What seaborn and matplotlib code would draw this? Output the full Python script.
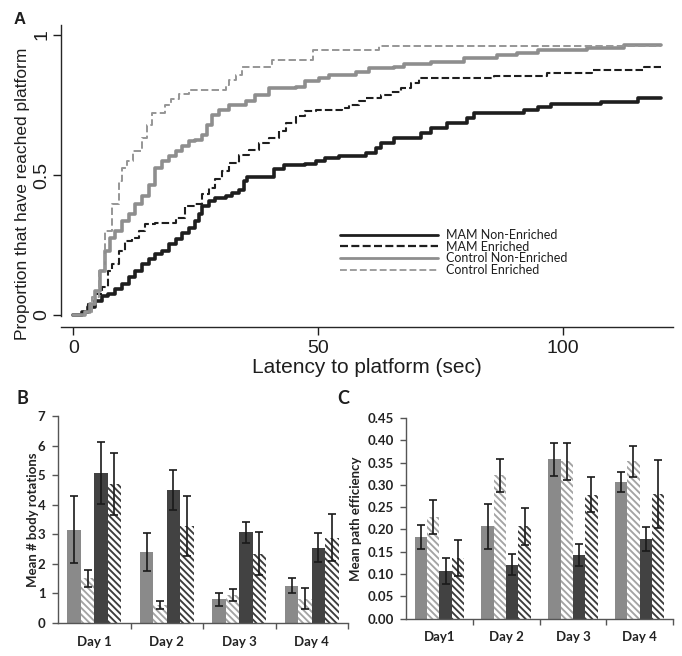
import matplotlib
matplotlib.use("Agg")
import matplotlib.pyplot as plt
import numpy as np
import pandas as pd
import seaborn as sns

# ---------------- Panel A: cumulative proportion reaching platform ----------------
mam_ne_t = [0, 1.8, 3.1, 4.5, 5.9, 7.2, 8.6, 10.0, 11.3, 12.7, 14.0, 15.4, 16.8, 18.1,
            19.5, 20.9, 22.2, 23.6, 24.9, 25.6, 26.3, 27.7, 29.0, 31.1, 32.4, 33.8, 34.8,
            35.5, 41.0, 43.0, 47.4, 49.5, 51.5, 54.3, 59.7, 61.8, 62.8, 65.5, 71.0, 73.0,
            76.4, 80.5, 81.9, 92.1, 94.8, 97.5, 107.8, 115.3, 120.0]
mam_ne_p = [0, 0.01, 0.027, 0.051, 0.069, 0.075, 0.093, 0.11, 0.134, 0.158, 0.181, 0.199,
            0.217, 0.229, 0.253, 0.27, 0.294, 0.312, 0.336, 0.36, 0.389, 0.407, 0.419,
            0.425, 0.437, 0.448, 0.478, 0.492, 0.52, 0.535, 0.54, 0.549, 0.561, 0.567,
            0.579, 0.597, 0.615, 0.632, 0.65, 0.668, 0.686, 0.704, 0.721, 0.733, 0.743,
            0.753, 0.762, 0.775, 0.775]

mam_e_t = [0, 2.0, 3.1, 4.5, 5.9, 7.2, 7.9, 9.3, 10.6, 12.0, 13.4, 14.7, 16.8, 20.9, 22.9,
           24.9, 26.3, 27.7, 29.0, 30.4, 31.8, 33.8, 35.9, 37.9, 39.9, 42.0, 43.4, 45.4,
           47.4, 49.5, 54.9, 56.3, 58.3, 59.7, 62.8, 64.8, 66.9, 68.9, 70.6, 85.9, 96.8,
           106.0, 116.6, 120.0]
mam_e_p = [0, 0.01, 0.039, 0.075, 0.099, 0.158, 0.181, 0.229, 0.264, 0.276, 0.30, 0.324,
           0.33, 0.348, 0.389, 0.395, 0.431, 0.454, 0.484, 0.514, 0.543, 0.573, 0.591,
           0.615, 0.632, 0.656, 0.686, 0.709, 0.727, 0.733, 0.739, 0.751, 0.763, 0.775,
           0.786, 0.798, 0.81, 0.828, 0.846, 0.855, 0.864, 0.875, 0.884, 0.884]

ctl_ne_t = [0, 2.5, 3.5, 4.5, 5.5, 6.5, 7.6, 8.6, 10.0, 11.3, 12.7, 14.0, 15.4, 16.8, 18.1,
            19.5, 20.9, 22.2, 23.6, 24.9, 26.3, 27.3, 28.4, 29.7, 31.8, 35.2, 37.2, 39.9,
            45.4, 47.4, 50.2, 52.2, 57.7, 60.4, 65.5, 67.5, 73.0, 79.8, 86.6, 90.7, 94.8,
            105.0, 112.5, 120.0]
ctl_ne_p = [0, 0.01, 0.04, 0.087, 0.158, 0.229, 0.276, 0.30, 0.336, 0.359, 0.395, 0.425,
            0.466, 0.526, 0.549, 0.567, 0.585, 0.603, 0.62, 0.626, 0.644, 0.68, 0.715,
            0.733, 0.751, 0.763, 0.786, 0.81, 0.816, 0.834, 0.846, 0.858, 0.869, 0.881,
            0.887, 0.896, 0.905, 0.917, 0.929, 0.935, 0.947, 0.953, 0.963, 0.965]

ctl_e_t = [0, 2.5, 3.8, 5.2, 6.5, 7.9, 9.3, 10.0, 11.0, 12.3, 14.0, 15.0, 16.1, 18.8, 20.0,
           21.5, 23.6, 31.1, 31.8, 33.2, 34.5, 40.5, 49.0, 62.5, 120.0]
ctl_e_p = [0, 0.01, 0.063, 0.158, 0.30, 0.395, 0.478, 0.526, 0.549, 0.585, 0.632, 0.68,
           0.721, 0.751, 0.77, 0.79, 0.804, 0.822, 0.84, 0.858, 0.885, 0.91, 0.945, 0.96,
           0.962]

curve_labels = ["MAM Non-Enriched", "MAM Enriched", "Control Non-Enriched", "Control Enriched"]

# ---------------- Panels B and C: bar charts ----------------
groups = ["Control Non-Enriched", "Control Enriched", "MAM Non-Enriched", "MAM Enriched"]
days_b = ["Day 1", "Day 2", "Day 3", "Day 4"]
days_c = ["Day1", "Day 2", "Day 3", "Day 4"]

rot_ctl_ne = [3.16, 2.40, 0.81, 1.26]
rot_ctl_e = [1.51, 0.60, 0.96, 0.82]
rot_mam_ne = [5.08, 4.50, 3.07, 2.55]
rot_mam_e = [4.70, 3.28, 2.34, 2.89]
rot_ctl_ne_err = [1.12, 0.65, 0.22, 0.25]
rot_ctl_e_err = [0.28, 0.13, 0.20, 0.35]
rot_mam_ne_err = [1.04, 0.69, 0.35, 0.48]
rot_mam_e_err = [1.05, 1.01, 0.73, 0.81]

eff_ctl_ne = [0.183, 0.207, 0.357, 0.307]
eff_ctl_e = [0.228, 0.321, 0.353, 0.353]
eff_mam_ne = [0.106, 0.121, 0.142, 0.178]
eff_mam_e = [0.136, 0.207, 0.278, 0.280]
eff_ctl_ne_err = [0.027, 0.050, 0.037, 0.022]
eff_ctl_e_err = [0.039, 0.038, 0.042, 0.035]
eff_mam_ne_err = [0.029, 0.024, 0.025, 0.027]
eff_mam_e_err = [0.041, 0.041, 0.040, 0.076]

# ---------------- style ----------------
sns.set_style("ticks")
plt.rcParams["font.family"] = ["Liberation Sans", "DejaVu Sans"]
plt.rcParams["hatch.linewidth"] = 1.35
plt.rcParams["axes.linewidth"] = 1.0

W, H = 682, 656
fig = plt.figure(figsize=(W / 100, H / 100), dpi=100)

def fx(px):
    return px / W

def fy(py):
    return 1 - py / H

# ---------------- Panel A ----------------
axA = fig.add_axes([fx(61), fy(327), (673 - 61) / W, (327 - 25) / H])
styles = [
    dict(color="#1e1e1e", lw=2.6, ls="-"),
    dict(color="#1e1e1e", lw=1.5, ls=(0, (3.6, 1.5))),
    dict(color="#8e8e8e", lw=2.6, ls="-"),
    dict(color="#969696", lw=1.4, ls=(0, (3.8, 1.7))),
]
series = [(mam_ne_t, mam_ne_p), (mam_e_t, mam_e_p), (ctl_ne_t, ctl_ne_p), (ctl_e_t, ctl_e_p)]
for (t, p), lab, st in zip(series, curve_labels, styles):
    sns.lineplot(x=t, y=p, ax=axA, estimator=None, sort=False, drawstyle="steps-post",
                 color=st["color"], linewidth=st["lw"], linestyle=st["ls"], label=lab)

axA.set_xlim(-2.49, 122.46)
axA.set_ylim(-0.0429, 1.0357)
axA.spines["top"].set_visible(False)
axA.spines["right"].set_visible(False)
axA.spines["left"].set_bounds(-0.005, 1.0357)
axA.set_xticks([0, 50, 100])
axA.set_xticklabels(["0", "50", "100"], fontsize=14)
axA.set_yticks([0, 0.5, 1])
axA.set_yticklabels(["0", "0.5", "1"], fontsize=14, rotation=90, va="center")
axA.tick_params(axis="x", length=6, width=1, pad=3, colors="#1e1e1e")
axA.tick_params(axis="y", length=6, width=1, pad=1.5, colors="#1e1e1e")
axA.set_xlabel("Latency to platform (sec)", fontsize=15, color="#1e1e1e")
axA.set_ylabel("Proportion that have reached platform", fontsize=12.5, color="#1e1e1e")
axA.xaxis.set_label_coords(0.5, -0.103)
axA.yaxis.set_label_coords(-0.051, 0.44)

handles, labels = axA.get_legend_handles_labels()
leg = axA.legend(handles, labels, loc="upper left",
                 bbox_to_anchor=(fx(340), fy(229)), bbox_transform=fig.transFigure,
                 frameon=False, borderpad=0, borderaxespad=0, labelspacing=-0.02,
                 handlelength=7.8, handletextpad=0.7,
                 prop={"family": "Lato", "size": 9})
for line, lw in zip(leg.get_lines(), [2.0, 1.6, 2.0, 1.3]):
    line.set_linewidth(lw)
for txt in leg.get_texts():
    txt.set_color("#1e1e1e")

fig.text(fx(14), fy(19), "A", fontsize=12, fontweight="bold", ha="left", va="center",
         color="#1e1e1e")

# ---------------- Bar panels ----------------
bar_styles = [
    dict(fc="#8a8a8a", hatch=None, ec="#8a8a8a"),
    dict(fc="white", hatch="\\\\\\\\\\", ec="#a4a4a4"),
    dict(fc="#424242", hatch=None, ec="#424242"),
    dict(fc="white", hatch="\\\\\\\\\\", ec="#3c3c3c"),
]

def bar_panel(ax, days, vals, errs, ylim, yticks, fmt, ylabel):
    df = pd.DataFrame({
        "day": [d for _ in groups for d in days],
        "group": [g for g in groups for _ in days],
        "value": [v for vs in vals for v in vs],
    })
    sns.barplot(data=df, x="day", y="value", hue="group", order=days, hue_order=groups,
                width=0.74, gap=0, errorbar=None, legend=False, ax=ax)
    containers = list(ax.containers)
    for gi, cont in enumerate(containers):
        st = bar_styles[gi]
        xs, ys = [], []
        for bar in cont:
            bar.set_facecolor(st["fc"])
            bar.set_edgecolor(st["ec"])
            bar.set_linewidth(0)
            if st["hatch"]:
                bar.set_hatch(st["hatch"])
            xs.append(bar.get_x() + bar.get_width() / 2)
            ys.append(bar.get_height())
        ax.errorbar(xs, ys, yerr=errs[gi], fmt="none", ecolor="#1a1a1a",
                    elinewidth=1.2, capsize=2.6, capthick=1.2, zorder=5)
    ax.set_xlim(-0.5, 3.5)
    ax.set_ylim(*ylim)
    ax.set_yticks(yticks)
    ax.set_yticklabels([fmt.format(v) for v in yticks], fontsize=9.5, fontweight="bold",
                       family="Lato", color="#222222")
    ax.set_xticks(range(4))
    ax.set_xticklabels(days, fontsize=9.5, fontweight="bold", family="Lato", color="#222222")
    ax.set_xticks([0.5, 1.5, 2.5, 3.5], minor=True)
    ax.tick_params(axis="x", which="major", length=0, pad=9)
    ax.tick_params(axis="x", which="minor", length=4, width=1, color="#555555")
    ax.tick_params(axis="y", length=4, width=1, color="#555555", pad=5)
    for s in ["top", "right"]:
        ax.spines[s].set_visible(False)
    for s in ["left", "bottom"]:
        ax.spines[s].set_color("#555555")
    ax.set_xlabel("")
    ax.set_ylabel(ylabel, fontsize=9.5, fontweight="bold", family="Lato", color="#222222")

axB = fig.add_axes([fx(58), fy(623), (348 - 58) / W, (623 - 416) / H])
bar_panel(axB, days_b,
          [rot_ctl_ne, rot_ctl_e, rot_mam_ne, rot_mam_e],
          [rot_ctl_ne_err, rot_ctl_e_err, rot_mam_ne_err, rot_mam_e_err],
          (0, 7), list(range(8)), "{:d}", "Mean # body rotations")
axB.yaxis.set_label_coords(-0.066, 0.5)

axC = fig.add_axes([fx(406), fy(618.5), (673 - 406) / W, (618.5 - 418) / H])
bar_panel(axC, days_c,
          [eff_ctl_ne, eff_ctl_e, eff_mam_ne, eff_mam_e],
          [eff_ctl_ne_err, eff_ctl_e_err, eff_mam_ne_err, eff_mam_e_err],
          (0, 0.45), [round(0.05 * i, 2) for i in range(10)], "{:.2f}", "Mean path efficiency")
axC.yaxis.set_label_coords(-0.165, 0.496)

fig.text(fx(17), fy(399), "B", fontsize=13, fontweight="bold", family="Lato",
         ha="left", va="center", color="#1e1e1e")
fig.text(fx(337), fy(399), "C", fontsize=13, fontweight="bold", family="Lato",
         ha="left", va="center", color="#1e1e1e")

fig.savefig("out.png", dpi=100)
